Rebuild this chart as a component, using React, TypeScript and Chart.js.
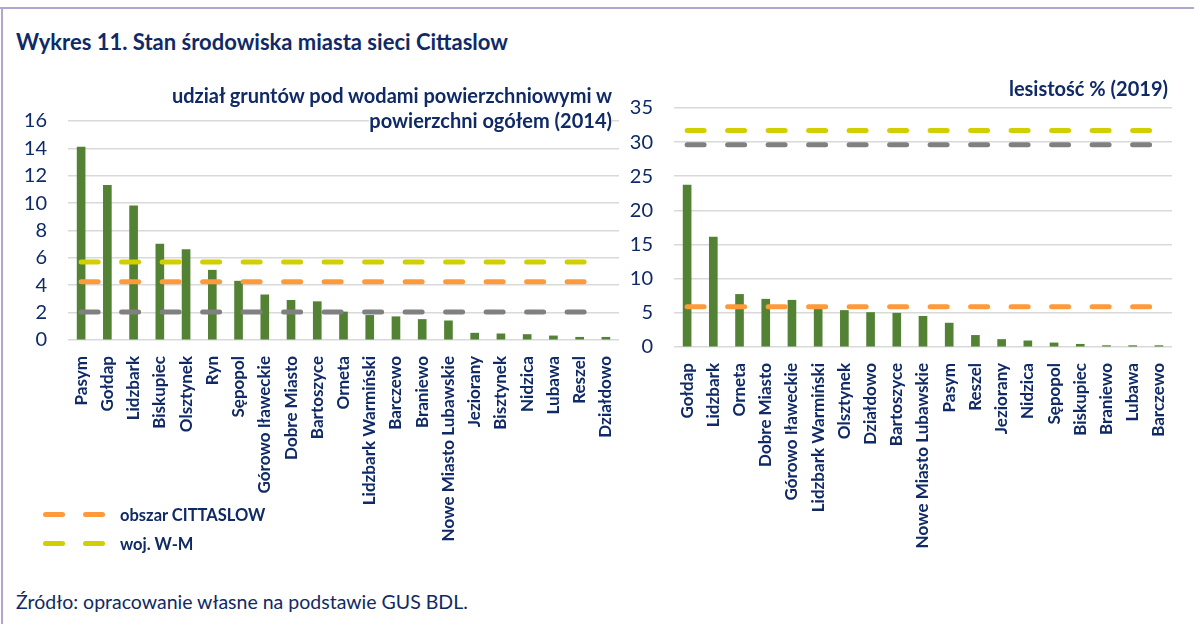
import React, { useEffect, useRef } from "react";
import { Chart, registerables } from "chart.js";

Chart.register(...registerables);

// ---------- data ----------
const leftCategories = [
  "Pasym", "Gołdap", "Lidzbark", "Biskupiec", "Olsztynek", "Ryn", "Sępopol",
  "Górowo Iławeckie", "Dobre Miasto", "Bartoszyce", "Orneta", "Lidzbark Warmiński",
  "Barczewo", "Braniewo", "Nowe Miasto Lubawskie", "Jeziorany", "Bisztynek",
  "Nidzica", "Lubawa", "Reszel", "Działdowo",
];
const leftValues = [
  14.1, 11.3, 9.8, 7.0, 6.6, 5.1, 4.3, 3.3, 2.9, 2.8, 2.05, 1.8, 1.7, 1.5, 1.4,
  0.5, 0.45, 0.4, 0.3, 0.2, 0.2,
];
const leftCittaslow = 4.25;
const leftWM = 5.7;
const leftOther = 2.05;
const leftTicks = [0, 2, 4, 6, 8, 10, 12, 14, 16];

const rightCategories = [
  "Gołdap", "Lidzbark", "Orneta", "Dobre Miasto", "Górowo Iławeckie",
  "Lidzbark Warmiński", "Olsztynek", "Działdowo", "Bartoszyce",
  "Nowe Miasto Lubawskie", "Pasym", "Reszel", "Jeziorany", "Nidzica", "Sępopol",
  "Biskupiec", "Braniewo", "Lubawa", "Barczewo",
];
const rightValues = [
  23.7, 16.1, 7.7, 7.0, 6.85, 5.6, 5.35, 5.05, 4.95, 4.5, 3.5, 1.7, 1.1, 0.9, 0.6,
  0.4, 0.2, 0.2, 0.2,
];
const rightCittaslow = 5.9;
const rightWM = 31.7;
const rightOther = 29.6;
const rightTicks = [0, 5, 10, 15, 20, 25, 30, 35];

const seriesNames = ["obszar CITTASLOW", "woj. W-M"];

// ---------- styles ----------
const NAVY = "#0F2A66";
const GREEN = "#548235";
const ORANGE = "#FF9A3A";
const YELLOW = "#D2CF00";
const GRAY = "#808080";
const GRID = "#D9D9D9";
const FONT = "Lato, 'Open Sans', sans-serif";

function refLine(label: string, value: number, cats: string[], color: string) {
  return {
    type: "line" as const,
    label,
    data: cats.map(() => value),
    borderColor: color,
    backgroundColor: color,
    borderWidth: 5,
    borderDash: [17, 23.5],
    borderCapStyle: "round" as const,
    pointRadius: 0,
    pointHoverRadius: 0,
    fill: false,
    tension: 0,
    order: 0,
  };
}

function makeConfig(
  cats: string[],
  values: number[],
  lines: { label: string; value: number; color: string }[],
  ticks: number[],
  yWidth: number,
  xHeight: number,
  padding: { top: number; right: number; left: number; bottom: number }
): any {
  return {
    type: "bar",
    data: {
      labels: cats,
      datasets: [
        {
          type: "bar",
          label: "wartość",
          data: values,
          backgroundColor: GREEN,
          borderWidth: 0,
          barThickness: 8,
          order: 1,
        },
        ...lines.map((l) => refLine(l.label, l.value, cats, l.color)),
      ],
    },
    options: {
      animation: false,
      responsive: false,
      events: [],
      layout: { padding },
      plugins: { legend: { display: false }, tooltip: { enabled: false }, title: { display: false } },
      scales: {
        x: {
          grid: { display: false, drawTicks: false },
          border: { display: false },
          ticks: {
            autoSkip: false,
            minRotation: 90,
            maxRotation: 90,
            padding: 16,
            color: NAVY,
            font: { family: FONT, size: 17, weight: "bold" },
          },
          afterFit: (s: any) => {
            s.height = xHeight;
            s.paddingLeft = 0;
            s.paddingRight = 0;
          },
        },
        y: {
          min: ticks[0],
          max: ticks[ticks.length - 1],
          afterBuildTicks: (s: any) => {
            s.ticks = ticks.map((v) => ({ value: v }));
          },
          grid: { color: GRID, lineWidth: 1.6, drawTicks: false },
          border: { display: false },
          ticks: {
            padding: 21,
            color: NAVY,
            font: { family: FONT, size: 20 },
          },
          afterFit: (s: any) => {
            s.width = yWidth;
            s.paddingTop = 0;
            s.paddingBottom = 0;
          },
        },
      },
    },
  };
}

function ChartCanvas(props: { config: any; left: number; top: number; width: number; height: number }) {
  const ref = useRef<HTMLCanvasElement | null>(null);
  useEffect(() => {
    if (!ref.current) return;
    const chart = new Chart(ref.current, props.config);
    return () => chart.destroy();
  }, []);
  return (
    <canvas
      ref={ref}
      width={props.width}
      height={props.height}
      style={{ position: "absolute", left: props.left, top: props.top, width: props.width, height: props.height }}
    />
  );
}

function Dash({ color }: { color: string }) {
  return (
    <span
      style={{
        display: "inline-block",
        width: 22,
        height: 5,
        borderRadius: 3,
        background: color,
        marginRight: 18,
      }}
    />
  );
}

export default function App() {
  const leftConfig = makeConfig(
    leftCategories,
    leftValues,
    [
      { label: "inne", value: leftOther, color: GRAY },
      { label: seriesNames[0], value: leftCittaslow, color: ORANGE },
      { label: seriesNames[1], value: leftWM, color: YELLOW },
    ],
    leftTicks,
    58,
    220,
    { top: 21, right: 11, left: 0, bottom: 0 }
  );
  const rightConfig = makeConfig(
    rightCategories,
    rightValues,
    [
      { label: "inne", value: rightOther, color: GRAY },
      { label: seriesNames[0], value: rightCittaslow, color: ORANGE },
      { label: seriesNames[1], value: rightWM, color: YELLOW },
    ],
    rightTicks,
    44,
    223,
    { top: 18, right: 18, left: 0, bottom: 0 }
  );

  const textBase: React.CSSProperties = { position: "absolute", color: NAVY, fontFamily: FONT, whiteSpace: "nowrap" };

  return (
    <div style={{ position: "relative", width: 1194, height: 624, background: "#fff", overflow: "hidden", fontFamily: FONT }}>
      <style>{"body{margin:0;background:#fff}"}</style>
      <div style={{ position: "absolute", left: 0, top: 7, width: 1194, height: 1.5, background: "#B3A5D0" }} />
      <div style={{ position: "absolute", left: 1, top: 7, width: 1.5, height: 617, background: "#B3A5D0" }} />

      <div style={{ ...textBase, left: 16, top: 28, fontSize: 22, fontWeight: 700, lineHeight: "28px" }}>
        Wykres 11. Stan środowiska miasta sieci Cittaslow
      </div>

      <ChartCanvas config={leftConfig} left={10} top={100} width={620} height={460} />
      <ChartCanvas config={rightConfig} left={630} top={90} width={560} height={480} />

      <div
        style={{
          ...textBase,
          right: 1194 - 612,
          top: 83,
          fontSize: 20,
          fontWeight: 700,
          lineHeight: "25px",
          textAlign: "right",
        }}
      >
        <span style={{ background: "#fff" }}>udział gruntów pod wodami powierzchniowymi w</span>
        <br />
        <span style={{ background: "#fff" }}>powierzchni ogółem (2014)</span>
      </div>

      <div style={{ ...textBase, right: 1194 - 1168, top: 75, fontSize: 20, fontWeight: 700, lineHeight: "26px" }}>
        lesistość % (2019)
      </div>

      <div style={{ position: "absolute", left: 43, top: 500 }}>
        {[
          { c: ORANGE, t: seriesNames[0] },
          { c: YELLOW, t: seriesNames[1] },
        ].map((r, i) => (
          <div key={i} style={{ display: "flex", alignItems: "center", height: 29 }}>
            <Dash color={r.c} />
            <Dash color={r.c} />
            <span style={{ color: NAVY, fontWeight: 700, fontSize: 16.5, marginLeft: -3 }}>{r.t}</span>
          </div>
        ))}
      </div>

      <div style={{ ...textBase, left: 16, top: 589, fontSize: 19.5, lineHeight: "26px" }}>
        Źródło: opracowanie własne na podstawie GUS BDL.
      </div>
    </div>
  );
}
